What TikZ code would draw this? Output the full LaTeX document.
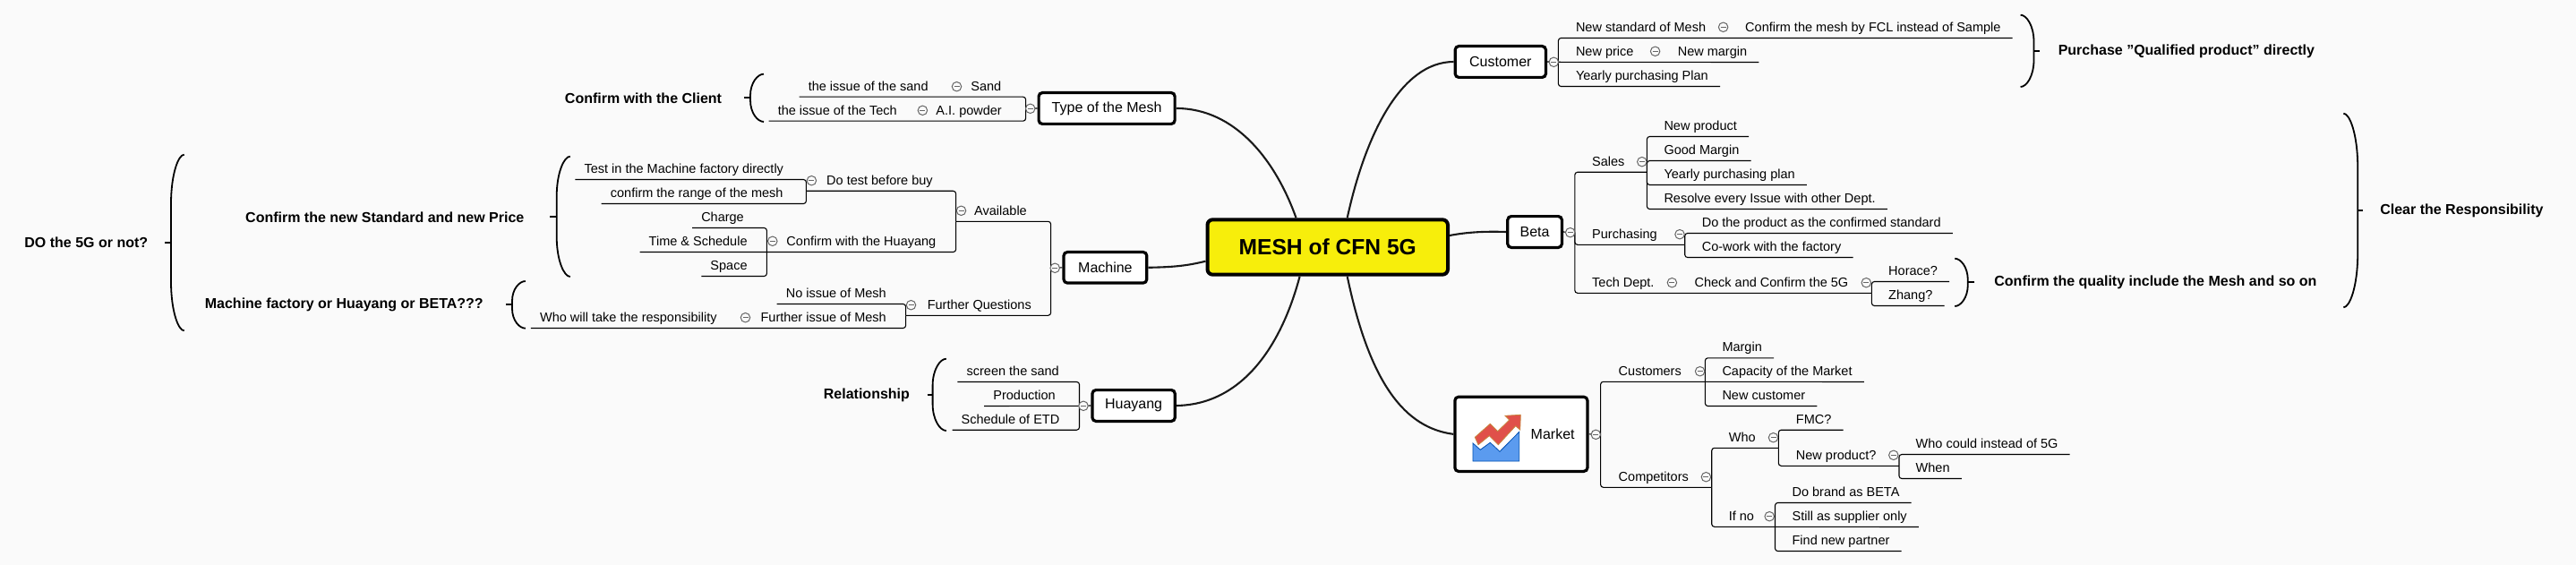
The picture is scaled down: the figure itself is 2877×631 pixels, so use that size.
\documentclass[tikz,border=0pt]{standalone}
\usepackage{fontspec}
\setmainfont{Liberation Sans}
\definecolor{bgc}{HTML}{FAFAFA}
\definecolor{rootc}{HTML}{F7EE0B}
\tikzset{
 x=1pt,y=-1pt,
 rootnode/.style={draw=black,fill=rootc,line width=4pt,rounded corners=6pt,inner sep=0pt,font=\fontsize{24.6}{28}\selectfont\bfseries},
 topic/.style={draw=black,fill=white,line width=3.2pt,rounded corners=4pt,inner sep=0pt,font=\fontsize{16}{20}\selectfont},
 baselbl/.style={inner ysep=0pt,text height=17.8pt,text depth=6.8pt,font=\fontsize{14.5}{17}\selectfont},
 rt/.style={baselbl,anchor=west,inner xsep=13pt,xshift=-13pt},
 lt/.style={baselbl,anchor=east,inner xsep=10pt,xshift=10pt},
 note/.style={inner sep=0pt,font=\fontsize{16}{20}\selectfont\bfseries},
 ln/.style={draw=black,line width=1.1pt,rounded corners=3pt},
 trunk/.style={draw=black!90,line width=2.1pt},
 brc/.style={draw=black,line width=1.8pt},
 fold/.style={circle,draw=black!60,fill=bgc,line width=1pt,minimum size=10.5pt,inner sep=0pt,
   path picture={\draw[black!60,line width=.9pt] ([xshift=-3pt]path picture bounding box.center)--([xshift=3pt]path picture bounding box.center);}},
}
\newcommand{\brce}[6]{% tipx top bottom spinex tickx curve
 \pgfmathsetmacro{\tickyval}{(#2+#3)/2}
 \pgfmathsetmacro{\ca}{#2+#6}\pgfmathsetmacro{\cb}{#3-#6}
 \pgfmathsetmacro{\cc}{#2+0.4*#6}\pgfmathsetmacro{\cd}{#3-0.4*#6}
 \pgfmathsetmacro{\ce}{#4+0.55*(#1-#4)}
 \draw[brc] (#1,#2) .. controls (\ce,#2) and (#4,\cc) .. (#4,\ca) -- (#4,\cb) .. controls (#4,\cd) and (\ce,#3) .. (#1,#3);
 \draw[brc] (#5,\tickyval) -- (#4,\tickyval);
}
\begin{document}
\begin{tikzpicture}
\useasboundingbox[fill=bgc] (0,0) rectangle (2877,631);

% main nodes
\node[rootnode,minimum width=268.5pt,minimum height=61.4pt] (root) at (1482.75,276) {MESH of CFN 5G};
\node[topic,minimum width=152pt,minimum height=34.8pt] (type) at (1236.1,121) {Type of the Mesh};
\node[topic,minimum width=92.7pt,minimum height=34.5pt] (machine) at (1234.4,298.8) {Machine};
\node[topic,minimum width=92.3pt,minimum height=34.8pt] (huayang) at (1266.1,453) {Huayang};
\node[topic,minimum width=101.2pt,minimum height=34.8pt] (customer) at (1675.8,69) {Customer};
\node[topic,minimum width=60.6pt,minimum height=34.8pt] (beta) at (1714.1,259) {Beta};
\node[topic,minimum width=148pt,minimum height=83.1pt] (market) at (1698.9,484.85) {};
\node[inner sep=0pt,font=\fontsize{16}{20}\selectfont,anchor=west] (markett) at (1709.5,484.3) {Market};

% trunk curves
\coordinate (r1) at (1447.5,243.3);
\coordinate (r2) at (1504.7,243.3);
\coordinate (r3) at (1451.6,308.7);
\coordinate (r4) at (1504.7,308.7);
\coordinate (r5) at (1346.5,291.7);
\coordinate (r6) at (1619,263);
\draw[trunk] (type.east) .. controls (1380,121) and (1425,180) .. (r1);
\draw[trunk] (customer.west) .. controls (1565,69) and (1525,150) .. (r2);
\draw[trunk] (huayang.east) .. controls (1385,452) and (1430,390) .. (r3);
\draw[trunk] (market.west) .. controls (1570,478) and (1530,430) .. (r4);
\draw[trunk] (machine.east) .. controls (1310,298.3) and (1325,297) .. (r5);
\draw[trunk] (beta.west) .. controls (1660,258.3) and (1640,259) .. (r6);

% Type of the Mesh
\node[lt] (isand) at (1036.8,95.7) {the issue of the sand};
\node[lt] (sand) at (1118.5,95.7) {Sand};
\node[lt] (itech) at (1002,122.7) {the issue of the Tech};
\node[lt] (ai) at (1119,122.7) {A.I. powder};
\coordinate (tj) at (1145.6,121.3);
\draw[ln] (type.west) -- (tj);
\draw[ln] (tj) |- (isand.south west);
\draw[ln] (tj) |- (itech.south west);

% Machine
\node[lt] (avail) at (1147,235) {Available};
\node[lt] (dotest) at (1041.9,201) {Do test before buy};
\node[lt] (testin) at (875.2,188) {Test in the Machine factory directly};
\node[lt] (range) at (874.7,215) {confirm the range of the mesh};
\node[lt] (cwh) at (1045.5,269) {Confirm with the Huayang};
\node[lt] (charge) at (831,242) {Charge};
\node[lt] (time) at (834.8,269) {Time \& Schedule};
\node[lt] (space) at (834.8,296) {Space};
\node[lt] (further) at (1152,340) {Further Questions};
\node[lt] (noiss) at (990,327) {No issue of Mesh};
\node[lt] (furiss) at (990,354) {Further issue of Mesh};
\node[lt] (whowill) at (800.8,354) {Who will take the responsibility};
\coordinate (mj) at (1173.6,299.3);
\coordinate (aj) at (1067.6,247.3);
\coordinate (dj) at (900.4,213.3);
\coordinate (hj) at (856.4,281.3);
\coordinate (fj) at (1011.6,352.3);
\draw[ln] (machine.west) -- (mj);
\draw[ln] (mj) |- (aj);
\draw[ln] (mj) |- (fj);
\draw[ln] (aj) |- (dj);
\draw[ln] (aj) |- (time.south west);
\draw[ln] (dj) |- (testin.south west);
\draw[ln] (dj) |- (range.south west);
\draw[ln] (hj) |- (charge.south west);
\draw[ln] (hj) |- (space.south west);
\draw[ln] (fj) |- (noiss.south west);
\draw[ln] (fj) |- (whowill.south west);

% Huayang
\node[lt] (screen) at (1183,414) {screen the sand};
\node[lt] (prod) at (1178.9,441) {Production};
\node[lt] (sched) at (1183.5,467.7) {Schedule of ETD};
\coordinate (yj) at (1205.5,453.3);
\draw[ln] (huayang.west) -- (yj);
\draw[ln] (yj) |- (screen.south west);
\draw[ln] (yj) -- (prod.south west);
\draw[ln] (yj) |- (sched.south west);

% Customer
\node[rt] (nstd) at (1759.8,30) {New standard of Mesh};
\node[rt] (cmesh) at (1949,30) {Confirm the mesh by FCL instead of Sample};
\node[rt] (nprice) at (1759.8,57) {New price};
\node[rt] (nmargin) at (1873.6,57) {New margin};
\node[rt] (yplan) at (1759.8,84) {Yearly purchasing Plan};
\coordinate (cj) at (1740.4,69.3);
\draw[ln] (customer.east) -- (cj);
\draw[ln] (cj) |- (cmesh.south east);
\draw[ln] (cj) -- (nmargin.south east);
\draw[ln] (cj) |- (yplan.south east);

% Beta
\node[rt] (sales) at (1778,179.7) {Sales};
\node[rt] (nprod) at (1858.3,140) {New product};
\node[rt] (gmargin) at (1858.3,167) {Good Margin};
\node[rt] (ypp) at (1858.3,194) {Yearly purchasing plan};
\node[rt] (resolve) at (1858.3,221) {Resolve every Issue with other Dept.};
\node[rt] (purch) at (1778,261) {Purchasing};
\node[rt] (dostd) at (1900.6,248) {Do the product as the confirmed standard};
\node[rt] (cowork) at (1900.6,275) {Co-work with the factory};
\node[rt] (tech) at (1778,315) {Tech Dept.};
\node[rt] (check) at (1892.4,315) {Check and Confirm the 5G};
\node[rt] (horace) at (2109,302) {Horace?};
\node[rt] (zhang) at (2109,329) {Zhang?};
\coordinate (bj) at (1758.8,259.7);
\coordinate (sj) at (1839.4,192.3);
\coordinate (pj) at (1881.7,273.3);
\coordinate (qj) at (2090.4,327.3);
\draw[ln] (beta.east) -- (bj);
\draw[ln] (bj) |- (sj);
\draw[ln] (bj) |- (pj);
\draw[ln] (bj) |- (qj);
\draw[ln] (sj) |- (nprod.south east);
\draw[ln] (sj) |- (gmargin.south east);
\draw[ln] (sj) |- (ypp.south east);
\draw[ln] (sj) |- (resolve.south east);
\draw[ln] (pj) |- (dostd.south east);
\draw[ln] (pj) |- (cowork.south east);
\draw[ln] (qj) |- (horace.south east);
\draw[ln] (qj) |- (zhang.south east);

% Market
\node[rt] (mcust) at (1807.5,414) {Customers};
\node[rt] (margin) at (1923.3,387.3) {Margin};
\node[rt] (capac) at (1923.3,414) {Capacity of the Market};
\node[rt] (ncust) at (1923.3,441) {New customer};
\node[rt] (comp) at (1807.5,532) {Competitors};
\node[rt] (who) at (1930.6,488) {Who};
\node[rt] (fmc) at (2005.7,467.7) {FMC?};
\node[rt] (newp) at (2005.7,507.7) {New product?};
\node[rt] (wcould) at (2139.5,495) {Who could instead of 5G};
\node[rt] (whenn) at (2139.5,522) {When};
\node[rt] (ifno) at (1930.6,576) {If no};
\node[rt] (dobrand) at (2001.4,549) {Do brand as BETA};
\node[rt] (still) at (2001.4,576) {Still as supplier only};
\node[rt] (findp) at (2001.4,603) {Find new partner};
\coordinate (kj) at (1787.6,485.3);
\coordinate (uj) at (1904.4,426.3);
\coordinate (oj) at (1911.7,544.3);
\coordinate (wj) at (1986.3,500.3);
\coordinate (nj) at (2121,520.3);
\coordinate (ij) at (1982.5,588.3);
\draw[ln] (market.east) -- (kj);
\draw[ln] (kj) |- (uj);
\draw[ln] (kj) |- (oj);
\draw[ln] (uj) |- (margin.south east);
\draw[ln] (uj) -- (capac.south east);
\draw[ln] (uj) |- (ncust.south east);
\draw[ln] (oj) |- (wj);
\draw[ln] (oj) |- (ij);
\draw[ln] (wj) |- (fmc.south east);
\draw[ln] (wj) |- (nj);
\draw[ln] (nj) |- (wcould.south east);
\draw[ln] (nj) |- (whenn.south east);
\draw[ln] (ij) |- (dobrand.south east);
\draw[ln] (ij) -- (still.south east);
\draw[ln] (ij) |- (findp.south east);

% fold markers
\foreach \fx/\fy in {1068.5/96.7,1030.4/123.3,1150.7/121.3,906.4/201.7,1073.5/235.3,862.8/269.3,1178.2/299.3,1017.5/340.7,832.5/354.7,1210/453.3,
 1735.3/69.3,1924.6/30.3,1848.6/57.3,1753.7/259.7,1833.8/180.7,1876/261.7,1867.4/315.7,2084.3/315.7,
 1782.3/485.3,1898.6/414.7,1905.4/532.7,1980.5/488.7,2114.8/508.3,1976.2/576.7}
 {\node[fold] at (\fx,\fy) {};}

% icon
\fill[draw=blue!55!cyan!70!black,line width=.8pt,fill={rgb,255:red,91;green,155;blue,239}]
 (1645,495) -- (1645,515) -- (1696.7,515) -- (1696.7,482.3) -- (1675,504.3) -- (1664.3,494.3) -- (1653.3,502.3) -- cycle;
\fill[draw={rgb,255:red,200;green,132;blue,60},line width=.8pt,fill={rgb,255:red,224;green,80;blue,74}]
 (1647.3,488.3) -- (1664.3,473.3) -- (1672.7,481.7) -- (1685.7,469) -- (1681,464.3) -- (1698.3,463.3) -- (1697.7,480) -- (1692.7,475.7) -- (1673.3,496.7) -- (1663.3,486.7) -- (1651,496.7) -- cycle;

% bold notes and braces
\node[note] (n1) at (96.3,271) {DO the 5G or not?};
\node[note] (n2) at (429.8,242.3) {Confirm the new Standard and new Price};
\node[note] (n3) at (384.3,340.3) {Machine factory or Huayang or BETA???};
\node[note] (n4) at (718.5,109.3) {Confirm with the Client};
\node[note] (n5) at (967.9,441.3) {Relationship};
\node[note] (n6) at (2441.9,57.3) {Purchase "Qualified product" directly};
\node[note] (n7) at (2749.4,235.3) {Clear the Responsibility};
\node[note] (n8) at (2407.4,315.3) {Confirm the quality include the Mesh and so on};

\brce{205.7}{172.7}{369.3}{191}{184}{55}
\brce{636.8}{174.7}{309}{621.7}{614}{45}
\brce{586.8}{314}{366.7}{572}{565}{22}
\brce{853}{82.7}{136}{838}{831}{24}
\brce{1056.8}{400.7}{481}{1041.6}{1035.6}{30}
\brce{2256.6}{16.7}{97}{2271.5}{2278.4}{30}
\brce{2617.3}{126.7}{343.3}{2633.2}{2639}{60}
\brce{2183.2}{288.7}{342}{2197.8}{2205.4}{24}
\end{tikzpicture}
\end{document}
